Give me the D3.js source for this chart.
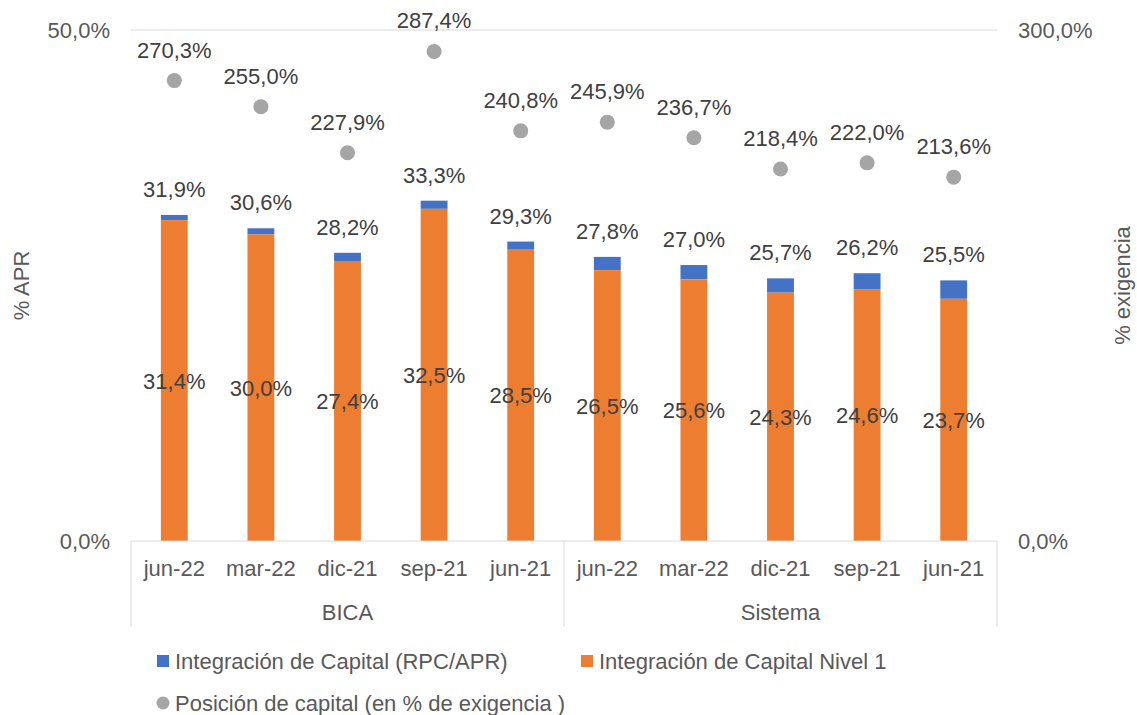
<!DOCTYPE html>
<html>
<head>
<meta charset="utf-8">
<script src="https://cdn.jsdelivr.net/npm/d3@7"></script>
<style>
  body { margin: 0; background: #fff; }
  text { font-family: "Liberation Sans", Arial, sans-serif; }
</style>
</head>
<body>
<div id="chart"></div>
<script>
// data
var periods = ["jun-22", "mar-22", "dic-21", "sep-21", "jun-21"];
var groups = ["BICA", "Sistema"];
var totalRPC = [31.9, 30.6, 28.2, 33.3, 29.3, 27.8, 27.0, 25.7, 26.2, 25.5];
var nivel1 = [31.4, 30.0, 27.4, 32.5, 28.5, 26.5, 25.6, 24.3, 24.6, 23.7];
var posicion = [270.3, 255.0, 227.9, 287.4, 240.8, 245.9, 236.7, 218.4, 222.0, 213.6];
var leftTicks = [0, 50];
var rightTicks = [0, 300];

var svgWidth = 1137;
var svgHeight = 715;
var margin = { top: 30, right: 140, bottom: 174, left: 131 };
var width = svgWidth - margin.left - margin.right;
var height = svgHeight - margin.top - margin.bottom;

var fmt = v => v.toFixed(1).replace(".", ",") + "%";
var fs = "22px";

// build one row per category
var rows = [];
groups.forEach(function(g, gi) {
  periods.forEach(function(p, pi) {
    var i = gi * periods.length + pi;
    rows.push({ key: g + "|" + p, group: g, period: p, total: totalRPC[i], n1: nivel1[i], pos: posicion[i] });
  });
});

var svg = d3.select("#chart")
  .append("svg")
  .attr("width", svgWidth)
  .attr("height", svgHeight);

var chartGroup = svg.append("g")
  .attr("transform", `translate(${margin.left}, ${margin.top})`);

var xBand = d3.scaleBand()
  .domain(rows.map(d => d.key))
  .range([0, width])
  .paddingInner(0.69)
  .paddingOuter(0.345);

var yLeft = d3.scaleLinear().domain([0, 50]).range([height, 0]);
var yRight = d3.scaleLinear().domain([0, 300]).range([height, 0]);

// top gridline
chartGroup.selectAll(".grid")
  .data(leftTicks.filter(t => t > 0))
  .enter()
  .append("line")
  .attr("x1", 0)
  .attr("x2", width)
  .attr("y1", d => yLeft(d))
  .attr("y2", d => yLeft(d))
  .attr("stroke", "#d9d9d9")
  .attr("stroke-width", 1);

// bars
var bars = chartGroup.append("g").selectAll("g")
  .data(rows)
  .enter()
  .append("g");

bars.append("rect")
  .attr("x", d => xBand(d.key))
  .attr("width", xBand.bandwidth())
  .attr("y", d => yLeft(d.total))
  .attr("height", d => yLeft(d.n1) - yLeft(d.total))
  .attr("fill", "#4472c4");

bars.append("rect")
  .attr("x", d => xBand(d.key))
  .attr("width", xBand.bandwidth())
  .attr("y", d => yLeft(d.n1))
  .attr("height", d => height - yLeft(d.n1))
  .attr("fill", "#ed7d31");

// labels
var cx = d => xBand(d.key) + xBand.bandwidth() / 2;

bars.append("text")
  .attr("x", cx)
  .attr("y", d => yLeft(d.total) - 18)
  .attr("text-anchor", "middle")
  .attr("font-size", fs)
  .attr("fill", "#404040")
  .text(d => fmt(d.total));

bars.append("text")
  .attr("x", cx)
  .attr("y", d => (yLeft(d.n1) + height) / 2 + 8)
  .attr("text-anchor", "middle")
  .attr("font-size", fs)
  .attr("fill", "#404040")
  .text(d => fmt(d.n1));

// points on right axis
bars.append("circle")
  .attr("cx", cx)
  .attr("cy", d => yRight(d.pos))
  .attr("r", 7.5)
  .attr("fill", "#a5a5a5");

bars.append("text")
  .attr("x", cx)
  .attr("y", d => yRight(d.pos) - 23)
  .attr("text-anchor", "middle")
  .attr("font-size", fs)
  .attr("fill", "#404040")
  .text(d => fmt(d.pos));

// bottom axis line
chartGroup.append("line")
  .attr("x1", 0).attr("x2", width)
  .attr("y1", height).attr("y2", height)
  .attr("stroke", "#d9d9d9");

// group separators
var groupStep = width / groups.length;
chartGroup.selectAll(".sep")
  .data(d3.range(groups.length + 1))
  .enter()
  .append("line")
  .attr("x1", d => d * groupStep).attr("x2", d => d * groupStep)
  .attr("y1", height).attr("y2", height + 86)
  .attr("stroke", "#d9d9d9");

// category labels
chartGroup.selectAll(".cat")
  .data(rows)
  .enter()
  .append("text")
  .attr("x", cx)
  .attr("y", height + 35)
  .attr("text-anchor", "middle")
  .attr("font-size", fs)
  .attr("fill", "#595959")
  .text(d => d.period);

chartGroup.selectAll(".grp")
  .data(groups)
  .enter()
  .append("text")
  .attr("x", (d, i) => (i + 0.5) * groupStep)
  .attr("y", height + 79)
  .attr("text-anchor", "middle")
  .attr("font-size", fs)
  .attr("fill", "#595959")
  .text(d => d);

// y tick labels
chartGroup.selectAll(".lt")
  .data(leftTicks)
  .enter()
  .append("text")
  .attr("x", -21)
  .attr("y", d => yLeft(d) + 8)
  .attr("text-anchor", "end")
  .attr("font-size", fs)
  .attr("fill", "#595959")
  .text(d => fmt(d));

chartGroup.selectAll(".rt")
  .data(rightTicks)
  .enter()
  .append("text")
  .attr("x", width + 21)
  .attr("y", d => yRight(d) + 8)
  .attr("text-anchor", "start")
  .attr("font-size", fs)
  .attr("fill", "#595959")
  .text(d => fmt(d));

// axis titles
svg.append("text")
  .attr("transform", `translate(29, ${margin.top + height / 2}) rotate(-90)`)
  .attr("text-anchor", "middle")
  .attr("font-size", fs)
  .attr("fill", "#595959")
  .text("% APR");

svg.append("text")
  .attr("transform", `translate(1130, ${margin.top + height / 2}) rotate(-90)`)
  .attr("text-anchor", "middle")
  .attr("font-size", fs)
  .attr("fill", "#595959")
  .text("% exigencia");

// legend
var legend = svg.append("g").attr("font-size", fs).attr("fill", "#595959");
var legendItems = [
  { name: "Integración de Capital (RPC/APR)", color: "#4472c4", shape: "rect", x: 157, y: 661 },
  { name: "Integración de Capital Nivel 1", color: "#ed7d31", shape: "rect", x: 581, y: 661 },
  { name: "Posición de capital (en % de exigencia )", color: "#a5a5a5", shape: "circle", x: 157, y: 703 }
];
legendItems.forEach(function(d) {
  if (d.shape === "rect") {
    legend.append("rect").attr("x", d.x).attr("y", d.y - 6).attr("width", 12).attr("height", 12).attr("fill", d.color);
  } else {
    legend.append("circle").attr("cx", d.x + 6).attr("cy", d.y).attr("r", 6.5).attr("fill", d.color);
  }
  legend.append("text").attr("x", d.x + 18).attr("y", d.y + 8).text(d.name);
});
</script>
</body>
</html>
